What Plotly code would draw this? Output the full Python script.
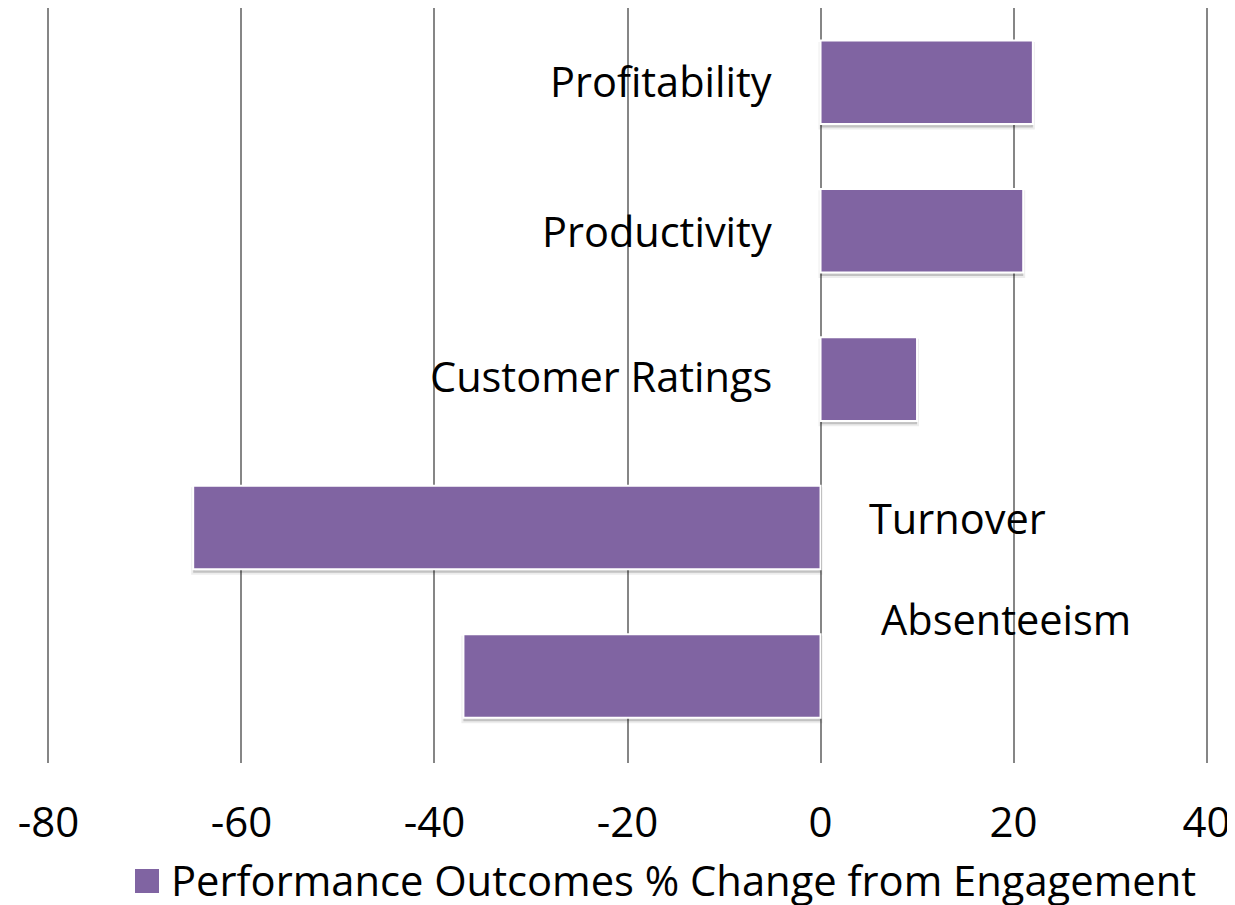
import plotly.graph_objects as go

categories = ["Profitability", "Productivity", "Customer Ratings", "Turnover", "Absenteeism"]
values = [22, 21, 10, -65, -37]
tick_vals = [-80, -60, -40, -20, 0, 20, 40]
tick_text = ["-80", "-60", "-40", "-20", "0", "20", "40"]
series_name = "Performance Outcomes % Change from Engagement"
# label offsets (px) relative to the bar's base / centre
label_yshift = [1.5, 0, 3, 10, 57]
label_xshift = [-47, -47, -47, 46, 58]

BAR = "#8064A2"
GRID = "#868686"
FONT = "Open Sans"

# figure is drawn inside the page's default 8px body margin
W, H = 1227, 900
ML, MR, MT, MB = 38, 26, 0, 145
PW, PH = W - ML - MR, H - MT - MB
BAR_W = 0.563
CAT_PX = PH / len(categories)


def px_x(sx):  # screen x -> paper x
    return (sx - 8 - ML) / PW


def px_y(sy):  # screen y -> paper y
    return 1 - (sy - 8 - MT) / PH


fig = go.Figure()
# soft drop shadow under the bars
fig.add_trace(go.Bar(
    x=values, y=categories, orientation="h",
    width=BAR_W, offset=-BAR_W / 2 + 3.5 / CAT_PX,
    marker=dict(color="rgba(0,0,0,0.18)", line=dict(color="rgba(0,0,0,0.07)", width=4)),
    showlegend=False, hoverinfo="skip",
))
fig.add_trace(go.Bar(
    x=values, y=categories, orientation="h",
    width=BAR_W, offset=-BAR_W / 2,
    marker=dict(color=BAR, line=dict(color="white", width=2)),
    name=series_name, showlegend=False,
))

for cat, v, xs, ys in zip(categories, values, label_xshift, label_yshift):
    fig.add_annotation(x=0, y=cat, xref="x", yref="y", text=cat, showarrow=False,
                       xanchor="right" if v >= 0 else "left", xshift=xs, yshift=ys,
                       font=dict(family=FONT, size=41.5, color="black"))

# custom legend
fig.add_shape(type="rect", xref="paper", yref="paper",
              x0=px_x(135), x1=px_x(159), y0=px_y(893), y1=px_y(869),
              fillcolor=BAR, line=dict(width=0))
fig.add_annotation(xref="paper", yref="paper", x=px_x(169), y=px_y(879),
                   text=series_name, showarrow=False, xanchor="left", yanchor="middle",
                   font=dict(family=FONT, size=41.7, color="black"))

fig.update_layout(
    width=W, height=H,
    margin=dict(l=ML, r=MR, t=MT, b=MB),
    paper_bgcolor="white", plot_bgcolor="white",
    barmode="overlay",
    font=dict(family=FONT, color="black"),
    xaxis=dict(range=[-80.25, 40.25], tickvals=tick_vals, ticktext=tick_text,
               showgrid=True, gridcolor=GRID, gridwidth=2,
               zeroline=True, zerolinecolor=GRID, zerolinewidth=2,
               showline=False, ticks="", ticklabelstandoff=31,
               tickfont=dict(family=FONT, size=42, color="black")),
    yaxis=dict(autorange="reversed", showticklabels=False, showgrid=False,
               zeroline=False, showline=False, ticks=""),
)

fig.write_html("out.html")
